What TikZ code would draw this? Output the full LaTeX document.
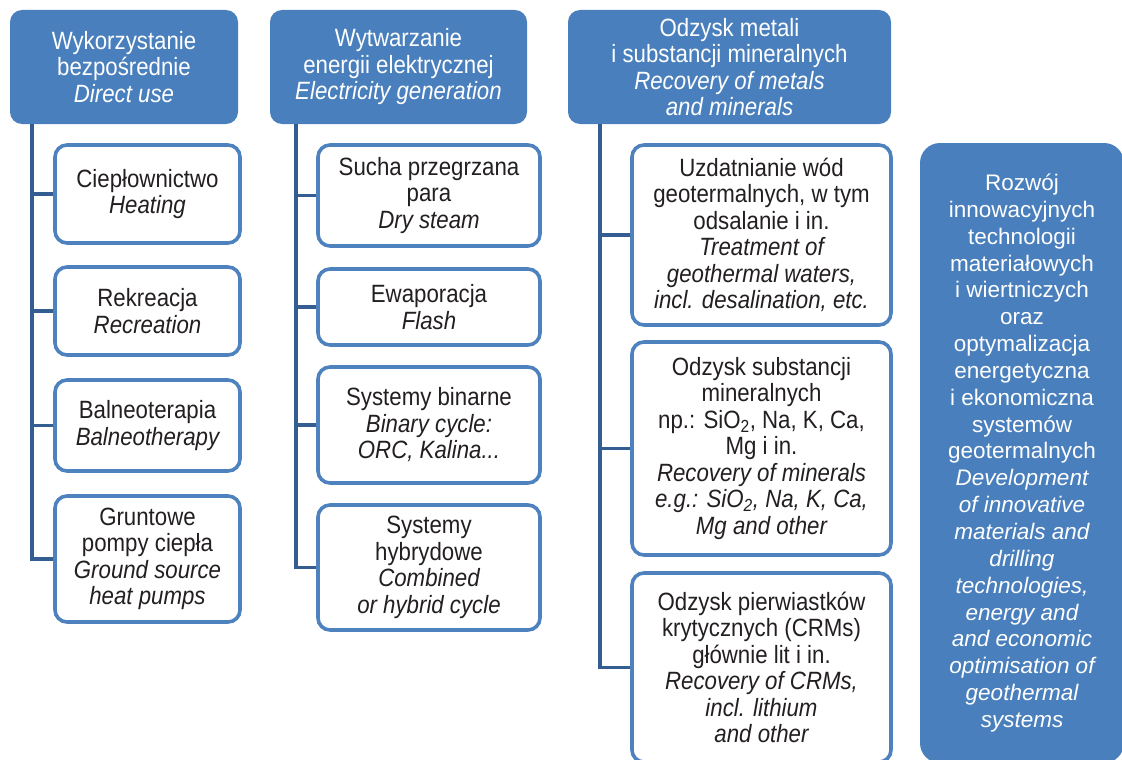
\documentclass[tikz,border=0pt]{standalone}
\usepackage{fontspec}
\setmainfont{Liberation Sans}[FakeStretch=0.89]
\newfontfamily\widefont{Liberation Sans}
\definecolor{hdrblue}{RGB}{73,127,188}
\definecolor{bordblue}{RGB}{78,130,190}
\definecolor{connblue}{RGB}{52,94,145}
\definecolor{txt}{RGB}{35,31,32}
\begin{document}
\begin{tikzpicture}[x=1pt,y=-1pt,
  hdr/.style={fill=hdrblue, rounded corners=12pt, text=white, align=center,
    inner sep=0pt, font=\fontsize{25}{26.5}\selectfont},
  item/.style={draw=bordblue, line width=3.6pt, fill=white, rounded corners=12pt,
    text=txt, align=center, inner sep=0pt, font=\fontsize{25}{26.5}\selectfont},
  side/.style={fill=hdrblue, rounded corners=20pt, text=white, align=center,
    inner sep=0pt, font=\widefont\fontsize{22.5}{26.85}\selectfont},
  conn/.style={draw=connblue, line width=3.6pt}]
\useasboundingbox (0,0) rectangle (1122,760);
\clip (0,0) rectangle (1122,760);
% headers
\node[hdr, minimum width=228pt, minimum height=114pt] (h1) at (124,67)
  {Wykorzystanie\\bezpośrednie\\\itshape Direct use};
\node[hdr, minimum width=257pt, minimum height=114pt] (h2) at (398.5,67)
  {Wytwarzanie\\energii elektrycznej\\\itshape Electricity generation};
\node[hdr, minimum width=323pt, minimum height=114pt] (h3) at (729.5,67)
  {Odzysk metali\\i substancji mineralnych\\\itshape Recovery of metals\\\itshape and minerals};
% side box
\node[side, minimum width=204pt, minimum height=620pt] (side) at (1022,453)
  {Rozwój\\innowacyjnych\\technologii\\materiałowych\\i wiertniczych\\oraz\\optymalizacja\\energetyczna\\i ekonomiczna\\systemów\\geotermalnych\\
   \itshape Development\\\itshape of innovative\\\itshape materials and\\\itshape drilling\\\itshape technologies,\\\itshape energy and\\\itshape and economic\\\itshape optimisation of\\\itshape geothermal\\\itshape systems};
% trunk coordinates
\coordinate (t1) at (32,124);
\coordinate (t2) at (296,124);
\coordinate (t3) at (600,124);
% column 1
\node[item, minimum width=185pt, minimum height=98pt] (b11) at (147.5,194)
  {Ciepłownictwo\\\itshape Heating};
\node[item, minimum width=185pt, minimum height=88pt] (b12) at (147.5,311)
  {Rekreacja\\\itshape Recreation};
\node[item, minimum width=185pt, minimum height=91pt] (b13) at (147.5,425.5)
  {Balneoterapia\\\itshape Balneotherapy};
\node[item, minimum width=185pt, minimum height=126pt] (b14) at (147.5,559)
  {Gruntowe\\pompy ciepła\\\itshape Ground source\\\itshape heat pumps};
% column 2
\node[item, minimum width=222pt, minimum height=101pt] (b21) at (429,195.5)
  {Sucha przegrzana\\para\\\itshape Dry steam};
\node[item, minimum width=222pt, minimum height=76pt] (b22) at (429,307)
  {Ewaporacja\\\itshape Flash};
\node[item, minimum width=222pt, minimum height=116pt] (b23) at (429,425)
  {Systemy binarne\\\itshape Binary cycle:\\\itshape ORC, Kalina...};
\node[item, minimum width=222pt, minimum height=125pt] (b24) at (429,567.5)
  {Systemy\\hybrydowe\\\itshape Combined\\\itshape or hybrid cycle};
% column 3
\node[item, minimum width=259pt, minimum height=180pt] (b31) at (761.5,235)
  {Uzdatnianie wód\\geotermalnych, w tym\\odsalanie i in.\\\itshape Treatment of\\\itshape geothermal waters,\\\itshape incl. desalination, etc.};
\node[item, minimum width=259pt, minimum height=213pt] (b32) at (761.5,448.5)
  {Odzysk substancji\\mineralnych\\np.: SiO\textsubscript{2}, Na, K, Ca,\\Mg i in.\\\itshape Recovery of minerals\\\itshape e.g.: SiO\textsubscript{2}, Na, K, Ca,\\\itshape Mg and other};
\node[item, minimum width=259pt, minimum height=189pt] (b33) at (761.5,667.5)
  {Odzysk pierwiastków\\krytycznych (CRMs)\\głównie lit i in.\\\itshape Recovery of CRMs,\\\itshape incl. lithium\\\itshape and other};
% connectors
\draw[conn] (t1) |- (b14.west);
\draw[conn] (b11.west -| t1) -- (b11.west);
\draw[conn] (b12.west -| t1) -- (b12.west);
\draw[conn] (b13.west -| t1) -- (b13.west);
\draw[conn] (t2) |- (b24.west);
\draw[conn] (b21.west -| t2) -- (b21.west);
\draw[conn] (b22.west -| t2) -- (b22.west);
\draw[conn] (b23.west -| t2) -- (b23.west);
\draw[conn] (t3) |- (b33.west);
\draw[conn] (b31.west -| t3) -- (b31.west);
\draw[conn] (b32.west -| t3) -- (b32.west);
\end{tikzpicture}
\end{document}
